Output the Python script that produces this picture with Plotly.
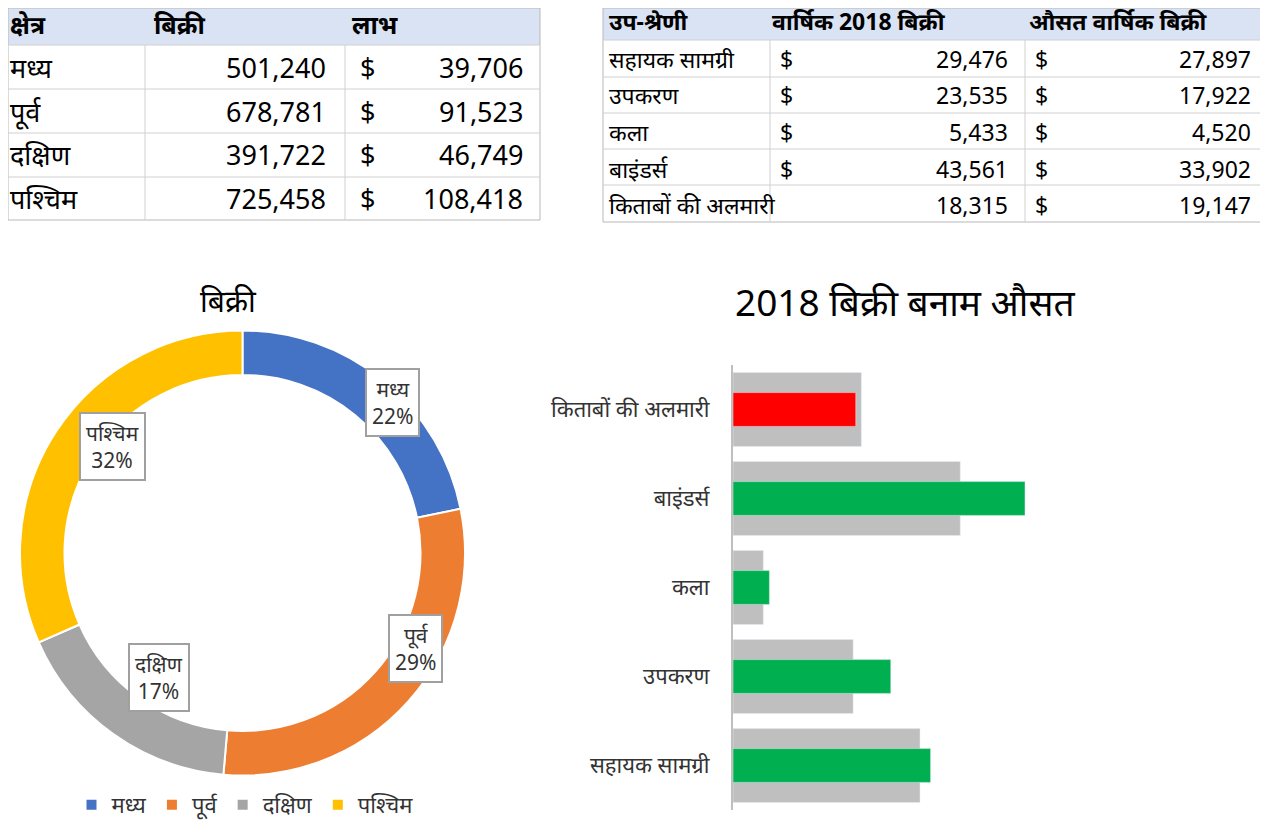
import plotly.graph_objects as go
import math

W, H = 1260, 824
OFF = 8
FONT = "Noto Sans, Noto Sans Devanagari, DejaVu Sans, sans-serif"

# ---- data ----
regions = ["मध्य", "पूर्व", "दक्षिण", "पश्चिम"]
region_sales = [501240, 678781, 391722, 725458]
region_profit = [39706, 91523, 46749, 108418]
region_pct_labels = ["22%", "29%", "17%", "32%"]
region_colors = ["#4472c4", "#ed7d31", "#a5a5a5", "#ffc000"]

subcats = ["सहायक सामग्री", "उपकरण", "कला", "बाइंडर्स", "किताबों की अलमारी"]
sales_2018 = [29476, 23535, 5433, 43561, 18315]
avg_sales = [27897, 17922, 4520, 33902, 19147]
show_dollar_2018 = [True, True, True, True, False]

def px(x):
    return (x - OFF) / W
def py(y):
    return 1 - (y - OFF) / H

fig = go.Figure()
shapes, ann = [], []

def line(x0, y0, x1, y1, color="#d0d0d0", w=1):
    shapes.append(dict(type="line", xref="paper", yref="paper", x0=px(x0), y0=py(y0),
                       x1=px(x1), y1=py(y1), line=dict(color=color, width=w)))
def rect(x0, y0, x1, y1, fill, lc="rgba(0,0,0,0)"):
    shapes.append(dict(type="rect", xref="paper", yref="paper", x0=px(x0), y0=py(y0),
                       x1=px(x1), y1=py(y1), fillcolor=fill, line=dict(color=lc, width=1), layer="below"))
def text(x, y, t, size, anchor="left", bold=False, color="black"):
    ann.append(dict(xref="paper", yref="paper", x=px(x), y=py(y), text=(f"<b>{t}</b>" if bold else t),
                    showarrow=False, xanchor=anchor, yanchor="middle",
                    font=dict(size=size, color=color, family=FONT)))

# ---- left table ----
rect(8, 8, 540, 45, "#dae3f3")
rect(8, 8, 540, 220, "rgba(0,0,0,0)", "#b8b8b8")
for yy in [45, 89, 133, 177]:
    line(8, yy, 540, yy)
for xx in [145, 345]:
    line(xx, 45, xx, 220)
text(8, 24, "क्षेत्र", 25, bold=True)
text(152, 24, "बिक्री", 25, bold=True)
text(350, 24, "लाभ", 25, bold=True)
for i, r in enumerate(regions):
    yc = 67 + i * 44
    text(8, yc, r, 27)
    text(328, yc, f"{region_sales[i]:,}", 27, anchor="right")
    text(358, yc, "$", 27)
    text(525, yc, f"{region_profit[i]:,}", 27, anchor="right")

# ---- right table ----
rect(603, 8, 1268, 40, "#dae3f3")
rect(603, 8, 1268, 222, "rgba(0,0,0,0)", "#b8b8b8")
for yy in [40, 77, 113, 149, 185]:
    line(603, yy, 1268, yy)
for xx in [770, 1025]:
    line(xx, 40, xx, 222)
text(607, 21, "उप-श्रेणी", 23, bold=True)
text(770, 21, "वार्षिक 2018 बिक्री", 23, bold=True)
text(1027, 21, "औसत वार्षिक बिक्री", 23, bold=True)
for i, s in enumerate(subcats):
    yc = 59 + i * 36.5
    text(607, yc, s, 23)
    if show_dollar_2018[i]:
        text(778, yc, "$", 23)
    text(1010, yc, f"{sales_2018[i]:,}", 23, anchor="right")
    text(1033, yc, "$", 23)
    text(1253, yc, f"{avg_sales[i]:,}", 23, anchor="right")

# ---- donut ----
fig.add_trace(go.Pie(labels=regions, values=region_sales, hole=0.8, sort=False,
                     direction="clockwise", rotation=0,
                     marker=dict(colors=region_colors, line=dict(color="white", width=2)),
                     textinfo="none", hoverinfo="label+percent",
                     domain=dict(x=[px(20), px(465)], y=[py(776), py(330)]),
                     showlegend=True))
cx, cy, rr = 242, 553, 195
total = sum(region_sales)
cum = 0
for i, r in enumerate(regions):
    mid = (cum + region_sales[i] / 2) / total * 2 * math.pi
    cum += region_sales[i]
    lx = cx + rr * math.sin(mid)
    ly = cy - rr * math.cos(mid)
    ann.append(dict(xref="paper", yref="paper", x=px(lx), y=py(ly),
                    text=f"{r}<br>{region_pct_labels[i]}",
                    showarrow=False, bgcolor="white", bordercolor="#a0a0a0", borderwidth=2,
                    borderpad=5, font=dict(size=21, family=FONT, color="#333")))
text(228, 300, "बिक्री", 30, anchor="center")

# ---- bars ----
bar_colors = ["#ff0000" if s < a else "#00b050" for s, a in zip(sales_2018, avg_sales)]
fig.add_trace(go.Bar(y=subcats, x=avg_sales, orientation="h", marker_color="#bfbfbf",
                     width=0.83, showlegend=False, name="औसत"))
fig.add_trace(go.Bar(y=subcats, x=sales_2018, orientation="h", marker_color=bar_colors,
                     width=0.38, showlegend=False, name="2018"))
fig.update_layout(
    barmode="overlay",
    xaxis=dict(domain=[px(733), px(1100)], range=[0, 43561 * 367 / 292], visible=False),
    yaxis=dict(domain=[py(810), py(365)], categoryorder="array", categoryarray=subcats,
               showline=True, linecolor="#bfbfbf", linewidth=2, ticks="",
               tickfont=dict(size=22, family=FONT, color="#333"), ticksuffix="   "),
)
text(905, 302, "2018 बिक्री बनाम औसत", 37, anchor="center")

fig.update_layout(
    width=W, height=H, margin=dict(l=0, r=0, t=0, b=0),
    paper_bgcolor="white", plot_bgcolor="white",
    shapes=shapes, annotations=ann,
    legend=dict(orientation="h", x=px(245), xanchor="center", y=py(805), yanchor="middle",
                font=dict(size=22, family=FONT, color="#333"), itemwidth=30),
    font=dict(family=FONT),
)
fig.write_html("out.html")
